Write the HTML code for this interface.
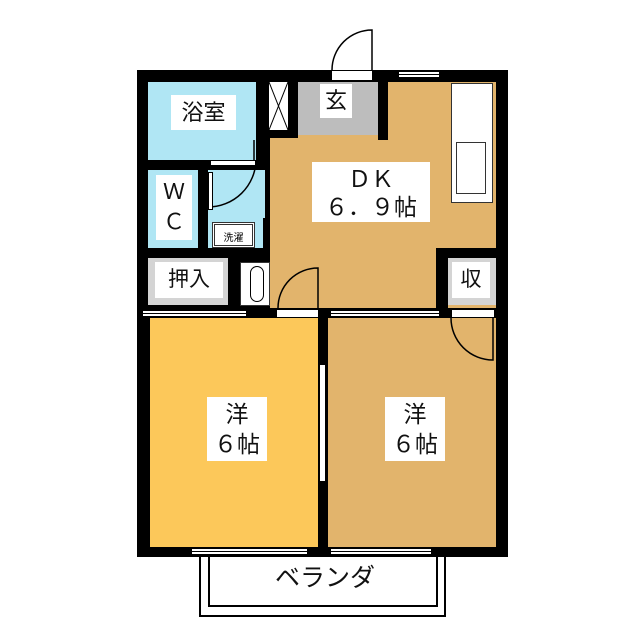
<!DOCTYPE html>
<html><head><meta charset="utf-8"><style>
body{margin:0;width:640px;height:640px;background:#fff;position:relative;overflow:hidden;font-family:"Liberation Sans","Noto Sans CJK JP",sans-serif}
div{position:absolute;box-sizing:border-box}
.k{background:#000}
.w{background:#fff}
.lb{background:#fff;text-align:center;color:#111}
.win{background:#fff;border:1px solid #000}
.win::after{content:"";position:absolute;left:0;right:0;top:2px;height:1px;background:#000}
</style></head><body>
<div class="k" style="left:137px;top:70px;width:371px;height:487px"></div>
<div style="left:148px;top:82px;width:108px;height:78px;background:#b0e6f4"></div>
<div style="left:148px;top:170px;width:50px;height:78px;background:#b0e6f4"></div>
<div style="left:208px;top:170px;width:57px;height:78px;background:#b0e6f4"></div>
<div class="k" style="left:263px;top:218px;width:8px;height:40px"></div>
<div class="w" style="left:212px;top:222px;width:43px;height:26px;border:3px double #333"></div>
<div style="left:212px;top:229px;width:43px;font-size:10px;text-align:center">洗濯</div>
<div style="left:270px;top:82px;width:226px;height:226px;background:#e2b46c"></div>
<div class="k" style="left:256px;top:70px;width:14px;height:100px"></div>
<div class="k" style="left:378px;top:70px;width:10px;height:70px"></div>
<div class="k" style="left:268px;top:82px;width:30px;height:56px"></div>
<div class="k" style="left:436px;top:248px;width:72px;height:10px"></div>
<div class="k" style="left:436px;top:248px;width:12px;height:70px"></div>
<div class="k" style="left:228px;top:248px;width:42px;height:70px"></div>
<div class="w" style="left:269px;top:82px;width:19px;height:48px"></div>
<svg style="position:absolute;left:269px;top:82px" width="19" height="48"><line x1="0" y1="0" x2="19" y2="48" stroke="#000"/><line x1="19" y1="0" x2="0" y2="48" stroke="#000"/></svg>
<div style="left:298px;top:82px;width:80px;height:53px;background:#bdbdbd"></div>
<div class="lb" style="left:320px;top:84px;width:32px;height:34px;font-size:22px;line-height:34px">玄</div>
<div class="w" style="left:451px;top:83px;width:42px;height:120px;border:1px solid #333"></div>
<div style="left:456px;top:142px;width:30px;height:52px;border:1px solid #333"></div>
<div style="left:148px;top:258px;width:80px;height:47px;background:#d4d4d4"></div>
<div class="lb" style="left:155px;top:262px;width:68px;height:36px;font-size:21px;line-height:36px">押入</div>
<div class="w" style="left:240px;top:262px;width:30px;height:44px;border:1px solid #333"></div>
<div style="left:250px;top:266px;width:14px;height:36px;border:1.5px solid #000;border-radius:7px"></div>
<div style="left:448px;top:258px;width:48px;height:47px;background:#d4d4d4"></div>
<div class="lb" style="left:452px;top:262px;width:38px;height:36px;font-size:21px;line-height:36px">収</div>
<div class="win" style="left:142px;top:310px;width:105px;height:7px"></div>
<div class="w" style="left:277px;top:310px;width:41px;height:7px"></div>
<div class="win" style="left:330px;top:310px;width:110px;height:7px"></div>
<div class="w" style="left:452px;top:310px;width:42px;height:7px"></div>
<div style="left:150px;top:318px;width:168px;height:229px;background:#fcc85a"></div>
<div style="left:328px;top:318px;width:168px;height:229px;background:#e2b46c"></div>
<div class="w" style="left:319px;top:364px;width:7px;height:118px;border:1px solid #000"></div>
<div class="win" style="left:191px;top:548px;width:117px;height:7px"></div>
<div class="win" style="left:330px;top:548px;width:102px;height:7px"></div>
<div class="win" style="left:398px;top:71px;width:42px;height:7px"></div>
<div class="w" style="left:332px;top:71px;width:40px;height:9px"></div>
<div style="left:199px;top:557px;width:247px;height:60px;border:2px solid #000;border-top:none"></div>
<div style="left:208px;top:557px;width:230px;height:50px;border:2px solid #000;border-top:none"></div>
<div class="lb" style="left:240px;top:558px;width:170px;height:40px;font-size:25px;line-height:40px;background:none">ベランダ</div>
<svg style="position:absolute;left:0;top:0" width="640" height="640" fill="none" stroke="#000" stroke-width="1.5">
<path d="M372 70 V30 A40 40 0 0 0 332 70"/>
<path d="M318 308 V268 A40 40 0 0 0 278 308"/>
<path d="M493 318 V360 A42 42 0 0 1 451 318"/>
<path d="M208 207 A48 48 0 0 0 256 160"/>
<line x1="254" y1="160" x2="254" y2="140"/>
</svg>
<div class="w" style="left:208px;top:172px;width:5px;height:38px;border:1px solid #000"></div>
<div class="w" style="left:210px;top:160px;width:46px;height:6px;border:1px solid #000"></div>
<div class="lb" style="left:171px;top:95px;width:65px;height:35px;font-size:22px;line-height:35px">浴室</div>
<div class="lb" style="left:156px;top:175px;width:36px;height:65px;font-size:22px;line-height:30px;padding-top:2px">Ｗ<br>Ｃ</div>
<div class="lb" style="left:312px;top:162px;width:118px;height:60px;font-size:23px;line-height:28px;padding-top:3px">ＤＫ<br>６．９帖</div>
<div class="lb" style="left:207px;top:397px;width:60px;height:64px;font-size:23px;line-height:30px;padding-top:2px">洋<br>６帖</div>
<div class="lb" style="left:385px;top:397px;width:60px;height:64px;font-size:23px;line-height:30px;padding-top:2px">洋<br>６帖</div>
</body></html>
